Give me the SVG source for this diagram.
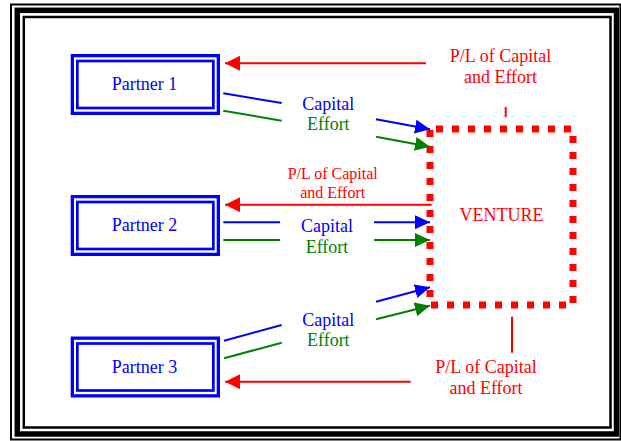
<svg xmlns="http://www.w3.org/2000/svg" width="621" height="441" viewBox="0 0 621 441">
  <style>
    .frame { fill: none; stroke: #000; }
    .box { fill: none; stroke: #0000ff; }
    .lbl { font-family: "Liberation Serif", "Times New Roman", serif; text-anchor: middle; }
    .blue { fill: #0000ff; }
    .green { fill: #008000; }
    .red { fill: #ff0000; }
    .ln { fill: none; stroke-width: 2; }
    .lb { stroke: #0000ff; }
    .lg { stroke: #008000; }
    .lr { stroke: #ff0000; }
  </style>
  <defs>
    <marker id="headRed" markerUnits="userSpaceOnUse" markerWidth="16" markerHeight="16" refX="15" refY="7.5" orient="auto">
      <path d="M0,0 L15,7.5 L0,15 z" fill="#ff0000"/>
    </marker>
    <marker id="headBlue" markerUnits="userSpaceOnUse" markerWidth="16" markerHeight="16" refX="15" refY="7" orient="auto">
      <path d="M0,0 L15,7 L0,14 z" fill="#0000ff"/>
    </marker>
    <marker id="headGreen" markerUnits="userSpaceOnUse" markerWidth="16" markerHeight="16" refX="15" refY="7" orient="auto">
      <path d="M0,0 L15,7 L0,14 z" fill="#008000"/>
    </marker>
  </defs>

  <rect width="621" height="441" fill="#fff"/>

  <!-- triple page border -->
  <g id="border">
    <rect class="frame" x="11" y="4.5" width="609.5" height="435" stroke-width="2"/>
    <rect class="frame" x="17.3" y="10.3" width="599.2" height="423.7" stroke-width="5.5"/>
    <rect class="frame" x="23.8" y="17" width="586.7" height="410.5" stroke-width="2.5"/>
  </g>

  <!-- partners -->
  <g id="partner1" transform="translate(70.5,54)">
    <rect class="box" x="1.85" y="1.65" width="146" height="57.7" stroke-width="3.3"/>
    <rect class="box" x="6.85" y="7" width="136" height="47" stroke-width="2.7"/>
    <text class="lbl blue" x="74" y="36" font-size="18">Partner 1</text>
  </g>
  <g id="partner2" transform="translate(70.5,195)">
    <rect class="box" x="1.85" y="1.65" width="146" height="57.7" stroke-width="3.3"/>
    <rect class="box" x="6.85" y="7" width="136" height="47" stroke-width="2.7"/>
    <text class="lbl blue" x="74" y="36" font-size="18">Partner 2</text>
  </g>
  <g id="partner3" transform="translate(70.5,336.5)">
    <rect class="box" x="1.85" y="1.65" width="146" height="57.7" stroke-width="3.3"/>
    <rect class="box" x="6.85" y="7" width="136" height="47" stroke-width="2.7"/>
    <text class="lbl blue" x="74" y="36" font-size="18">Partner 3</text>
  </g>

  <!-- venture -->
  <g id="venture">
    <rect x="430" y="129" width="143" height="176" fill="none" stroke="#ff0000" stroke-width="7" stroke-dasharray="7 9" stroke-dashoffset="-6"/>
    <text class="lbl red" x="501.5" y="220.5" font-size="18">VENTURE</text>
  </g>

  <!-- flows -->
  <g id="connectors">
    <!-- partner 1 -->
    <line class="ln lr" x1="426" y1="63.3" x2="225" y2="63.3" marker-end="url(#headRed)"/>
    <line class="ln lr" x1="505.7" y1="107" x2="505.7" y2="117" stroke-width="1.5"/>
    <line class="ln lb" x1="223.3" y1="93.3" x2="281.7" y2="103"/>
    <line class="ln lg" x1="223.3" y1="110.7" x2="281.7" y2="120.7"/>
    <line class="ln lb" x1="376" y1="119.3" x2="430" y2="129.3" marker-end="url(#headBlue)"/>
    <line class="ln lg" x1="376" y1="136.7" x2="430" y2="146.7" marker-end="url(#headGreen)"/>

    <!-- partner 2 -->
    <line class="ln lr" x1="431.7" y1="204.7" x2="225" y2="204.7" marker-end="url(#headRed)"/>
    <line class="ln lb" x1="223.3" y1="222.3" x2="280" y2="222.3"/>
    <line class="ln lg" x1="223.3" y1="240" x2="280" y2="240"/>
    <line class="ln lb" x1="374" y1="222.3" x2="430" y2="222.3" marker-end="url(#headBlue)"/>
    <line class="ln lg" x1="374" y1="240" x2="430" y2="240" marker-end="url(#headGreen)"/>

    <!-- partner 3 -->
    <line class="ln lr" x1="410.7" y1="381.7" x2="225" y2="381.7" marker-end="url(#headRed)"/>
    <line class="ln lr" x1="512" y1="316.7" x2="512" y2="352.7" stroke-width="1.5"/>
    <line class="ln lb" x1="224" y1="340.7" x2="281.7" y2="325"/>
    <line class="ln lg" x1="224" y1="358.3" x2="281.7" y2="342.7"/>
    <line class="ln lb" x1="376" y1="301.7" x2="430" y2="287.3" marker-end="url(#headBlue)"/>
    <line class="ln lg" x1="376" y1="319.3" x2="430" y2="305.7" marker-end="url(#headGreen)"/>
  </g>

  <!-- flow labels -->
  <g id="labels">
    <text class="lbl red" x="500.5" y="62.3" font-size="18">P/L of Capital</text>
    <text class="lbl red" x="500.5" y="82.7" font-size="18">and Effort</text>
    <text class="lbl blue" x="328.3" y="110" font-size="18">Capital</text>
    <text class="lbl green" x="328.3" y="130" font-size="18">Effort</text>

    <text class="lbl red" x="332.7" y="179" font-size="16">P/L of Capital</text>
    <text class="lbl red" x="332.7" y="197.7" font-size="16">and Effort</text>
    <text class="lbl blue" x="327" y="232" font-size="18">Capital</text>
    <text class="lbl green" x="327" y="253" font-size="18">Effort</text>

    <text class="lbl blue" x="328.3" y="326" font-size="18">Capital</text>
    <text class="lbl green" x="328.3" y="346" font-size="18">Effort</text>
    <text class="lbl red" x="486" y="373.3" font-size="18">P/L of Capital</text>
    <text class="lbl red" x="486" y="394" font-size="18">and Effort</text>
  </g>
</svg>
